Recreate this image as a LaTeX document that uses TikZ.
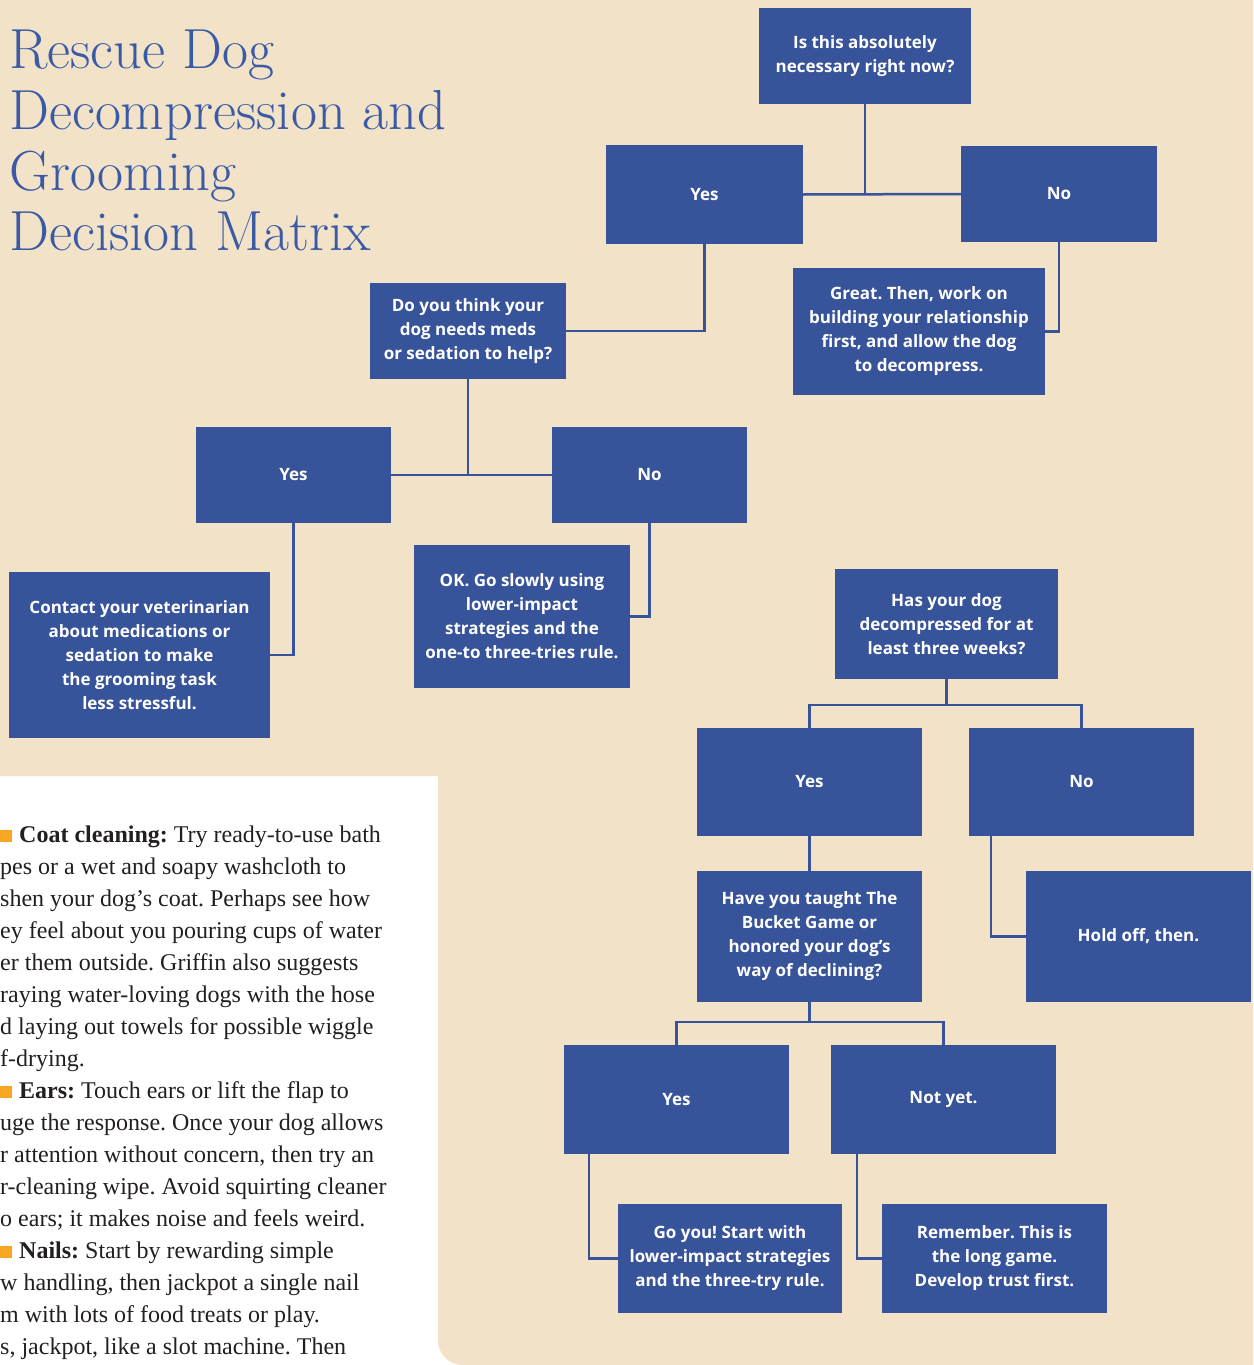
\documentclass[tikz,border=0pt]{standalone}
\usepackage{fontspec}
\newfontfamily\boxfont{Open Sans}
\newfontfamily\bodyfont{Liberation Serif}
\usetikzlibrary{positioning, calc}
\definecolor{boxblue}{RGB}{55,83,153}
\definecolor{titleblue}{RGB}{58,90,165}
\definecolor{beige}{RGB}{242,226,200}
\definecolor{bullet}{RGB}{246,166,35}
\definecolor{ink}{RGB}{35,31,32}
\newcommand{\sq}{\textcolor{bullet}{\rule{12pt}{12pt}}\hspace{7pt}}
\frenchspacing

\begin{document}
\begin{tikzpicture}[
						x=1pt, y=-1pt,
						box/.style = {fill=boxblue, text=white, align=center, inner sep=0pt, font=\boxfont\bfseries\fontsize{17}{24}\selectfont},
						link/.style = {draw=boxblue, line width=2.5pt},
						title/.style = {anchor=base west, inner sep=0pt, text=titleblue, font=\fontsize{56.5}{61}\selectfont},
						body/.style = {anchor=base west, inner sep=0pt, text=ink, font=\bodyfont\fontsize{24}{32}\selectfont}
					]
\useasboundingbox (0,0) rectangle (1253,1365);
\fill[white] (0,0) rectangle (1253,1365);
\fill[beige] (0,0) -- (1253,0) -- (1253,1365) -- (463,1365) .. controls (449,1365) and (438,1354) .. (438,1340) -- (438,776) -- (0,776) -- cycle;

\node[title] (t1) at (9,68) {Rescue Dog};
\node[title] (t2) at (9,129) {Decompression and};
\node[title] (t3) at (9,190) {Grooming};
\node[title] (t4) at (9,250) {Decision Matrix};

\node[box, minimum width=212pt, minimum height=96pt] (1) at (865,56) {Is this absolutely\\necessary right now?};
\node[box, minimum width=197pt, minimum height=99pt] (2) at (704.5,194.5) {Yes};
\node[box, minimum width=196pt, minimum height=96pt] (3) at (1059,194) {No};
\node[box, minimum width=252pt, minimum height=127pt] (4) at (919,331.5) {Great. Then, work on\\building your relationship\\first, and allow the dog\\to decompress.};
\node[box, minimum width=196pt, minimum height=96pt] (5) at (468,331) {Do you think your\\dog needs meds\\or sedation to help?};
\node[box, minimum width=195pt, minimum height=96pt] (6) at (293.5,475) {Yes};
\node[box, minimum width=195pt, minimum height=96pt] (7) at (649.5,475) {No};
\node[box, minimum width=261pt, minimum height=166pt] (8) at (139.5,655) {Contact your veterinarian\\about medications or\\sedation to make\\the grooming task\\less stressful.};
\node[box, minimum width=216pt, minimum height=143pt] (9) at (522,616.5) {OK. Go slowly using\\lower-impact\\strategies and the\\one-to three-tries rule.};
\node[box, minimum width=223pt, minimum height=110pt] (10) at (946.5,624) {Has your dog\\decompressed for at\\least three weeks?};
\node[box, minimum width=225pt, minimum height=108pt] (11) at (809.5,782) {Yes};
\node[box, minimum width=225pt, minimum height=108pt] (12) at (1081.5,782) {No};
\node[box, minimum width=225pt, minimum height=131pt] (13) at (809.5,936.5) {Have you taught The\\Bucket Game or\\honored your dog’s\\way of declining?};
\node[box, minimum width=225pt, minimum height=131pt] (14) at (1138.5,936.5) {Hold off, then.};
\node[box, minimum width=225pt, minimum height=109pt] (15) at (676.5,1099.5) {Yes};
\node[box, minimum width=225pt, minimum height=109pt] (16) at (943.5,1099.5) {Not yet.};
\node[box, minimum width=224pt, minimum height=109pt] (17) at (730,1258.5) {Go you! Start with\\lower-impact strategies\\and the three-try rule.};
\node[box, minimum width=225pt, minimum height=109pt] (18) at (994.5,1258.5) {Remember. This is\\the long game.\\Develop trust first.};
\coordinate (j1) at (946.5,705);
\coordinate (j2) at (809.5,1022);

\draw[link] (1.south) -- (1.south |- 2.east);
\draw[link] (2.east) -- (3.west);
\draw[link] (2.south) |- (5.east);
\draw[link] (3.south) |- (4.east);
\draw[link] (5.south) -- (5.south |- 6.east);
\draw[link] (6.east) -- (7.west);
\draw[link] (6.south) |- (8.east);
\draw[link] (7.south) |- (9.east);
\draw[link] (10.south) -- (j1);
\draw[link] (11.north) |- (j1) -| (12.north);
\draw[link] (11.south) -- (13.north);
\draw[link] ($(12.south west)+(22,0)$) |- (14.west);
\draw[link] (13.south) -- (j2);
\draw[link] (15.north) |- (j2) -| (16.north);
\draw[link] ($(15.south west)+(25,0)$) |- (17.west);
\draw[link] ($(16.south west)+(26,0)$) |- (18.west);

\node[body] (b1) at (0,842) {\sq\textbf{Coat cleaning:} Try ready-to-use bath};
\node[body] (b2) at (0,874) {pes or a wet and soapy washcloth to};
\node[body] (b3) at (0,906) {shen your dog’s coat. Perhaps see how};
\node[body] (b4) at (0,938) {ey feel about you pouring cups of water};
\node[body] (b5) at (0,970) {er them outside. Griffin also suggests};
\node[body] (b6) at (0,1002) {raying water-loving dogs with the hose};
\node[body] (b7) at (0,1034) {d laying out towels for possible wiggle};
\node[body] (b8) at (0,1066) {f-drying.};
\node[body] (b9) at (0,1098) {\sq\textbf{Ears:} Touch ears or lift the flap to};
\node[body] (b10) at (0,1130) {uge the response. Once your dog allows};
\node[body] (b11) at (0,1162) {r attention without concern, then try an};
\node[body] (b12) at (0,1194) {r-cleaning wipe. Avoid squirting cleaner};
\node[body] (b13) at (0,1226) {o ears; it makes noise and feels weird.};
\node[body] (b14) at (0,1258) {\sq\textbf{Nails:} Start by rewarding simple};
\node[body] (b15) at (0,1290) {w handling, then jackpot a single nail};
\node[body] (b16) at (0,1322) {m with lots of food treats or play.};
\node[body] (b17) at (0,1354) {s, jackpot, like a slot machine. Then};
\end{tikzpicture}
\end{document}
